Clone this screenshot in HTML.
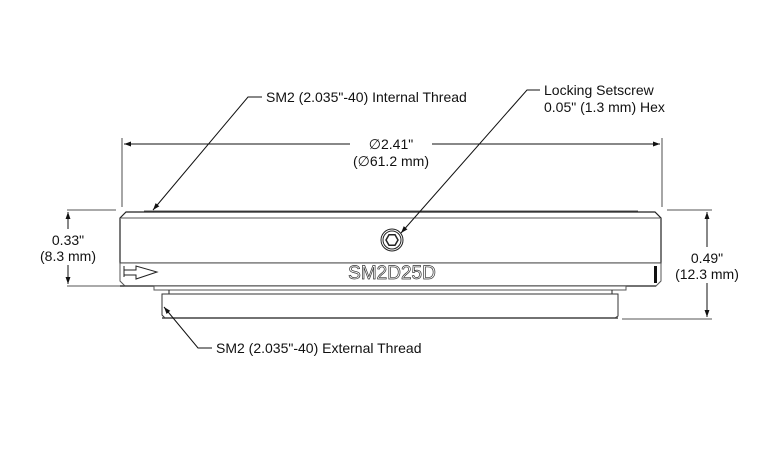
<!DOCTYPE html>
<html><head><meta charset="utf-8"><style>
html,body{margin:0;padding:0;background:#fff;}
svg{display:block;}
text{font-family:"Liberation Sans Narrow","Liberation Sans",sans-serif;fill:#111;}
</style></head><body>
<svg width="780" height="450" viewBox="0 0 780 450" xmlns="http://www.w3.org/2000/svg">
<defs>
<marker id="a" viewBox="0 0 10 10" refX="10" refY="5" markerWidth="7" markerHeight="7" orient="auto-start-reverse" markerUnits="userSpaceOnUse"><path d="M0,1.5 L10,5 L0,8.5 z" fill="#111"/></marker>
</defs>
<g stroke="#777" stroke-width="1.3" fill="none">
<line x1="122" y1="138" x2="122" y2="207"/>
<line x1="662" y1="138" x2="662" y2="207"/>
<line x1="67" y1="210" x2="116" y2="210"/>
<line x1="67" y1="286" x2="124" y2="286"/>
<line x1="667" y1="210" x2="712" y2="210"/>
<line x1="622" y1="319" x2="712" y2="319"/>
</g>
<!-- part -->
<g stroke="#222" fill="#fff" stroke-width="1">
<line x1="144" y1="211" x2="638" y2="211" stroke="#555"/>
<path d="M120,218 L126,212 L655,212 L661,218 L661,263 L120,263 Z" stroke-width="1.2"/>
<line x1="121" y1="218" x2="660" y2="218" stroke="#555"/>
<path d="M120,263 L661,263 L661,281 L656,286 L125,286 L120,281 Z" stroke="#555"/>
<line x1="120" y1="286" x2="656" y2="286" stroke="#444" stroke-width="1.5"/>
<rect x="154" y="286" width="472" height="4" stroke="#555"/>
<line x1="169" y1="290" x2="169" y2="294"/><line x1="612" y1="290" x2="612" y2="294"/>
<path d="M162,294 L618,294 L618,316 L615,318 L165,318 L162,315 Z" stroke="#333"/>
<line x1="162" y1="318" x2="618" y2="318" stroke="#444" stroke-width="1.5"/>
<path d="M124,266 L124,277 M124,270 L136,270 L136,266 L157,272 L136,279 L136,275 L124,275" fill="none"/>
<circle cx="392" cy="240" r="11"/><circle cx="392" cy="240" r="9"/>
<polygon points="398,240 395,245.2 389,245.2 386,240 389,234.8 395,234.8" stroke-width="1.5"/>
</g>
<rect x="654" y="266" width="3" height="17" fill="#111"/>
<text x="392" y="279" font-size="19" text-anchor="middle" style="fill:#fff;stroke:#333;stroke-width:0.7" font-family="Liberation Sans">SM2D25D</text>
<g stroke="#111" stroke-width="1" fill="none">
<line x1="124" y1="144" x2="350" y2="144" marker-start="url(#a)"/>
<line x1="432" y1="144" x2="660" y2="144" marker-end="url(#a)"/>
<line x1="68" y1="229" x2="68" y2="212" marker-end="url(#a)"/>
<line x1="68" y1="265" x2="68" y2="284" marker-end="url(#a)"/>
<line x1="707" y1="247" x2="707" y2="212" marker-end="url(#a)"/>
<line x1="707" y1="283" x2="707" y2="317" marker-end="url(#a)"/>
<polyline points="262,97 248,97 153,210" marker-end="url(#a)"/>
<polyline points="540,90 527,90 401,233" marker-end="url(#a)"/>
<polyline points="212,348 198,348 164,307" marker-end="url(#a)"/>
</g>
<g font-size="14">
<text x="266" y="102">SM2 (2.035"-40) Internal Thread</text>
<text x="544" y="95">Locking Setscrew</text>
<text x="544" y="112">0.05" (1.3 mm) Hex</text>
<text x="391" y="149" text-anchor="middle">∅2.41"</text>
<text x="391" y="166" text-anchor="middle">(∅61.2 mm)</text>
<text x="68" y="245" text-anchor="middle">0.33"</text>
<text x="68" y="261" text-anchor="middle">(8.3 mm)</text>
<text x="707" y="263" text-anchor="middle">0.49"</text>
<text x="707" y="279" text-anchor="middle">(12.3 mm)</text>
<text x="216" y="353">SM2 (2.035"-40) External Thread</text>
</g>
</svg>
</body></html>
